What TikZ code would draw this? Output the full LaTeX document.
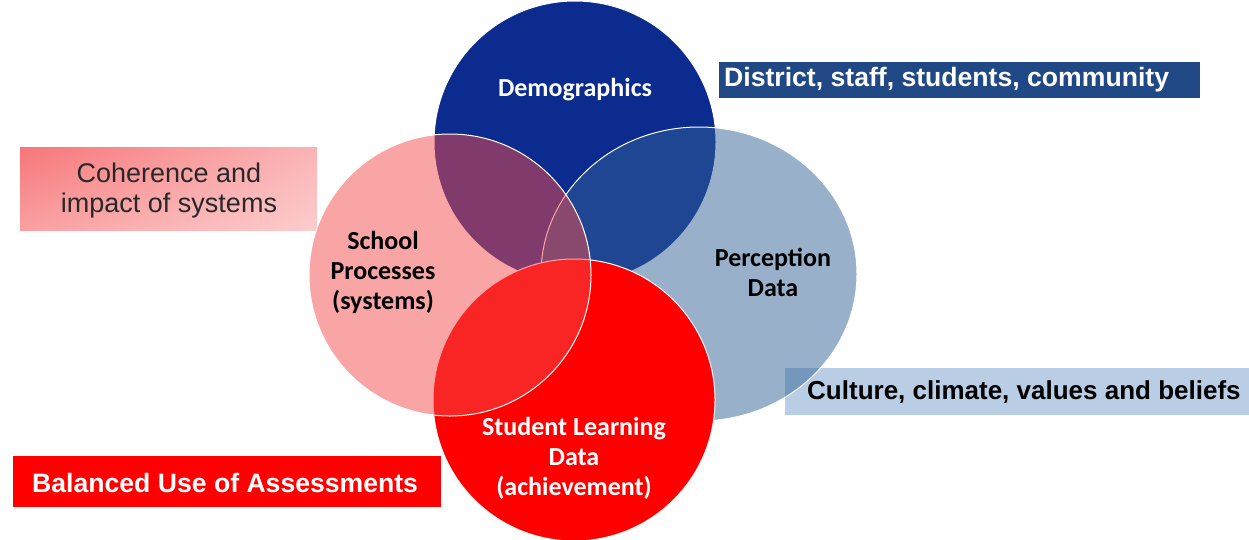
\documentclass[tikz,border=0pt]{standalone}
\usepackage{fontspec}
\setmainfont{Carlito}
\newfontfamily\arialfont{Liberation Sans}
\usepackage{tikz}
\usetikzlibrary{shapes.geometric,shadings,positioning}

\definecolor{demoblue}{RGB}{11,43,143}
\definecolor{percblue}{RGB}{49,98,150}
\definecolor{schoolpink}{RGB}{245,75,75}
\definecolor{learnred}{RGB}{255,0,0}
\definecolor{districtbox}{RGB}{31,72,132}
\definecolor{culturebox}{RGB}{185,205,229}
\definecolor{textgray}{RGB}{40,40,40}
\definecolor{pinkA}{RGB}{247,118,120}
\definecolor{pinkB}{RGB}{250,180,182}
\definecolor{pinkC}{RGB}{249,160,162}
\definecolor{pinkD}{RGB}{252,205,206}

\begin{document}
\begin{tikzpicture}[x=1pt,y=-1pt,
	ring/.style={circle, minimum size=282pt, inner sep=0pt, draw=white, line width=1pt},
	inlabel/.style={font=\bfseries\fontsize{26}{30}\selectfont, align=center, inner sep=0pt},
	tag/.style={font=\arialfont\bfseries\fontsize{26.6}{30}\selectfont, anchor=west, inner sep=0pt}]
	\useasboundingbox (0,0) rectangle (1249,539);
	\fill[culturebox] (785,368) rectangle (1249,415);
	\fill[districtbox] (719,62) rectangle (1200,98);
	\fill[learnred] (13,456) rectangle (441,507);
	\shade[upper left=pinkA, upper right=pinkB, lower left=pinkC, lower right=pinkD]
		(20,147) rectangle (317,230);
	
	\node[ring, fill=demoblue] (demo) at (575,142) {};
	\node[ellipse, minimum width=316pt, minimum height=294pt, inner sep=0pt, draw=white, line width=1pt,
		fill=percblue, fill opacity=0.5] (perc) at (699,274) {};
	\node[ring, fill=learnred] (learn) at (574,400) {};
	\node[ring, fill=schoolpink, fill opacity=0.5] (school) at (450,275) {};
	
	\node[inlabel, text=white] (demotext) at (575,90) {Demographics};
	\node[inlabel] (perctext) at (773,272) {Perception\\Data};
	\node[inlabel] (schooltext) at (383,272) {School\\Processes\\(systems)};
	\node[inlabel, text=white] (learntext) at (574,458) {Student Learning\\Data\\(achievement)};
	
	\node[tag, text=white] (district) at (724,80) {District, staff, students, community};
	\node[tag, font=\arialfont\bfseries\fontsize{26}{30}\selectfont] (culture) at (807,392) {Culture, climate, values and beliefs};
	\node[tag, text=white] (balanced) at (32,483) {Balanced Use of Assessments};
	\node[font=\arialfont\fontsize{27}{30}\selectfont, text=textgray, align=center, inner sep=0pt]
		(coherence) at (169,191) {Coherence and\\impact of systems};
\end{tikzpicture}
\end{document}
